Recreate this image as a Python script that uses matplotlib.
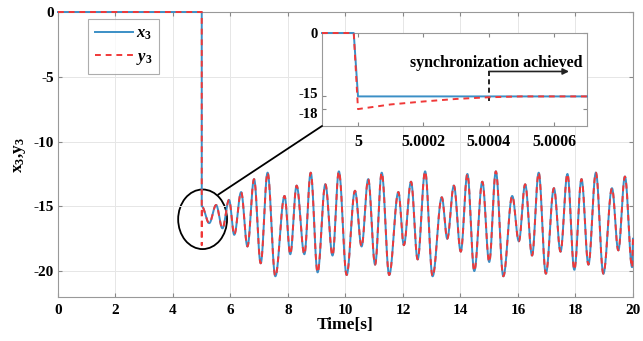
import numpy as np
import matplotlib
matplotlib.use('Agg')
import matplotlib.pyplot as plt
import matplotlib.transforms as mtransforms
from matplotlib.patches import Ellipse, ConnectionPatch

# ---- данные ----
# экстремумы x3 после t = 5 c
t_ext = [5.00, 5.26, 5.50, 5.72, 5.95, 6.13, 6.37, 6.59, 6.82, 7.05, 7.29, 7.56,
         7.88, 8.08, 8.30, 8.57, 8.79, 9.03, 9.30, 9.55, 9.77, 10.04, 10.33,
         10.56, 10.79, 11.03, 11.26, 11.52, 11.84, 12.03, 12.28, 12.51, 12.77,
         13.03, 13.35, 13.54, 13.77, 14.01, 14.24, 14.48, 14.76, 15.00, 15.23,
         15.49, 15.80, 16.03, 16.25, 16.49, 16.72, 16.97, 17.25, 17.48, 17.72,
         17.96, 18.21, 18.45, 18.71, 18.97, 19.27, 19.49, 19.72, 19.97, 20.00]
v_ext = [-15.0, -16.3, -14.9, -16.7, -14.5, -17.2, -13.9, -18.1, -12.9, -19.4,
         -12.4, -20.4, -14.2, -18.7, -13.4, -18.7, -12.4, -20.1, -13.3, -18.8,
         -12.3, -20.3, -13.8, -18.1, -12.9, -19.5, -12.4, -20.3, -13.9, -18.0,
         -13.1, -19.1, -12.3, -20.4, -14.3, -17.5, -13.4, -18.5, -12.5, -20.0,
         -13.1, -19.3, -12.3, -20.4, -14.2, -17.7, -13.3, -18.8, -12.4, -20.2,
         -13.6, -18.5, -12.5, -19.9, -12.9, -19.5, -12.4, -20.2, -13.6, -18.4,
         -12.7, -19.7, -17.5]

# до включения синхронизации
t_pre = [0.0, 5.0]
v_pre = [0.0, 0.0]
y3_start = -18.0

# увеличенный фрагмент (вставка)
tz_x = [4.99989, 4.999987, 5.0, 5.0007]
vz_x = [0.0, 0.0, -15.0, -15.0]
tz_y = [4.99989, 4.999987, 5.0, 5.0001, 5.0002, 5.0003, 5.0004, 5.0005, 5.0007]
vz_y = [0.0, 0.0, -18.0, -16.9, -16.2, -15.6, -15.2, -15.0, -15.0]
inset_xticks = [5, 5.0002, 5.0004, 5.0006]
inset_xlabels = ['5', '5.0002', '5.0004', '5.0006']

blue = '#3b8fc6'
red = '#f03838'

plt.rcParams['font.family'] = ['Liberation Serif', 'DejaVu Serif']
plt.rcParams['font.weight'] = 'bold'
plt.rcParams['axes.unicode_minus'] = False
plt.rcParams['mathtext.fontset'] = 'custom'
plt.rcParams['mathtext.rm'] = 'Liberation Serif:bold'
plt.rcParams['mathtext.it'] = 'Liberation Serif:bold:italic'
plt.rcParams['mathtext.bf'] = 'Liberation Serif:bold'


def smooth(tk, vk, n=40):
    # гладкая кривая через экстремумы (полуволны косинуса)
    tt, vv = [], []
    for i in range(len(tk) - 1):
        s = np.linspace(0, 1, n, endpoint=False)
        tt.extend(tk[i] + (tk[i + 1] - tk[i]) * s)
        vv.extend(vk[i] + (vk[i + 1] - vk[i]) * (1 - np.cos(np.pi * s)) / 2)
    tt.append(tk[-1])
    vv.append(vk[-1])
    return np.array(tt), np.array(vv)


def style_axes(a, size):
    a.tick_params(direction='in', top=True, right=True, labelsize=size,
                  length=3, color='#888888')
    a.tick_params(axis='x', pad=5)
    a.tick_params(axis='y', pad=3)
    for lab in a.get_xticklabels() + a.get_yticklabels():
        lab.set_fontweight('bold')
    for s in a.spines.values():
        s.set_color('#999999')
        s.set_linewidth(0.8)


ts, vs = smooth(t_ext, v_ext)
t_x = np.concatenate([t_pre, ts])
x3 = np.concatenate([v_pre, vs])
t_y = np.concatenate([t_pre, ts])
y3 = np.concatenate([v_pre, [y3_start], vs[1:]])

fig = plt.figure(figsize=(6.43, 3.41), dpi=100)
ax = fig.add_axes([0.0902, 0.129, 0.8942, 0.8358])
ax.plot(t_x, x3, '-', color=blue, linewidth=1.4, label='$x_3$',
        clip_on=False, zorder=3)
ax.plot(t_y, y3, '--', color=red, linewidth=1.4, dashes=(3, 2.5), label='$y_3$',
        clip_on=False, zorder=3)
ax.set_xlim(0, 20)
ax.set_ylim(-22, 0)
ax.set_xticks(range(0, 21, 2))
ax.set_yticks([0, -5, -10, -15, -20])
ax.grid(True, color='#e6e6e6', linewidth=0.7)
style_axes(ax, 11)
ax.set_xlabel('Time[s]', fontsize=12.5, fontweight='bold', labelpad=0)
ax.set_ylabel('x$_3$,y$_3$', fontsize=12.5, fontweight='bold', labelpad=4)

leg = ax.legend(loc='upper left', bbox_to_anchor=(0.052, 0.975), fontsize=12,
                handlelength=2.3, handletextpad=0.2, fancybox=False,
                edgecolor='#999999', borderpad=0.4, labelspacing=0.4,
                borderaxespad=0)
leg.get_frame().set_linewidth(0.8)

ell = Ellipse((5.03, -16.0), 1.7, 4.6, fill=False, edgecolor='black', linewidth=1.3)
ax.add_patch(ell)

# вставка
axi = fig.add_axes([0.5008, 0.6305, 0.4121, 0.2727])
axi.plot(tz_x, vz_x, '-', color=blue, linewidth=1.4, clip_on=False, zorder=3)
axi.plot(tz_y, vz_y, '--', color=red, linewidth=1.4, dashes=(3, 2.5),
         clip_on=False, zorder=3)
axi.set_xlim(4.99989, 5.0007)
axi.set_ylim(-22, 0)
axi.set_xticks(inset_xticks)
axi.set_xticklabels(inset_xlabels)
axi.set_yticks([0, -15, -18])
style_axes(axi, 10.5)
axi.tick_params(axis='x', pad=6, labelsize=11.5)
# раздвигаю подписи -15 и -18, чтобы не налезали
ylabs = axi.get_yticklabels()
ylabs[1].set_transform(ylabs[1].get_transform() +
                       mtransforms.ScaledTranslation(0, 2.5 / 72, fig.dpi_scale_trans))
ylabs[2].set_transform(ylabs[2].get_transform() +
                       mtransforms.ScaledTranslation(0, -2.5 / 72, fig.dpi_scale_trans))

axi.plot([5.0004, 5.0004], [-9.1, -16.3], '--', color='black', linewidth=1.2, dashes=(3, 2))
axi.annotate('', xy=(5.000645, -9.1), xytext=(5.0004, -9.1),
             arrowprops=dict(arrowstyle='-|>', color='#222222', linewidth=1.2,
                             mutation_scale=9, shrinkA=0, shrinkB=0))
axi.text(5.000423, -7.0, 'synchronization achieved', fontsize=11.5,
         fontweight='bold', ha='center', va='center')

con = ConnectionPatch(xyA=(5.57, -14.1), coordsA=ax.transData,
                      xyB=(0, 0), coordsB=axi.transAxes,
                      color='black', linewidth=1.3)
fig.add_artist(con)

fig.savefig('out.png', dpi=100)
